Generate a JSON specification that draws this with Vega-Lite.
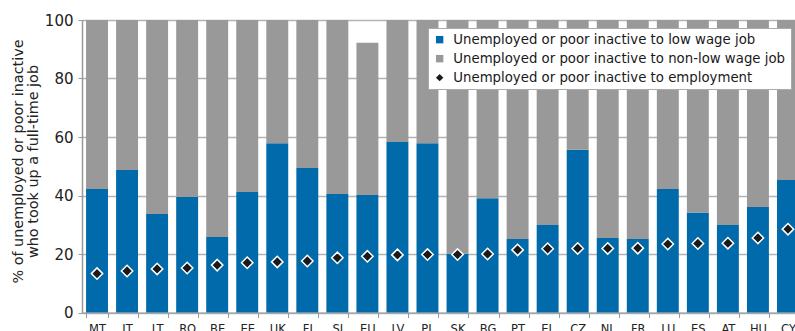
{
  "$schema": "https://vega.github.io/schema/vega-lite/v6.json",
  "width": 713,
  "height": 292.5,
  "autosize": "none",
  "padding": {"left": 82, "top": 20, "right": 0, "bottom": 18.5},
  "config": {"view": {"stroke": null}, "font": "DejaVu Sans"},
  "datasets": {
    "bars": [
      {"country": "MT", "series": "Unemployed or poor inactive to low wage job", "value": 42.2},
      {"country": "MT", "series": "Unemployed or poor inactive to non-low wage job", "value": 57.8},
      {"country": "IT", "series": "Unemployed or poor inactive to low wage job", "value": 48.7},
      {"country": "IT", "series": "Unemployed or poor inactive to non-low wage job", "value": 51.3},
      {"country": "LT", "series": "Unemployed or poor inactive to low wage job", "value": 33.7},
      {"country": "LT", "series": "Unemployed or poor inactive to non-low wage job", "value": 66.3},
      {"country": "RO", "series": "Unemployed or poor inactive to low wage job", "value": 39.5},
      {"country": "RO", "series": "Unemployed or poor inactive to non-low wage job", "value": 60.5},
      {"country": "BE", "series": "Unemployed or poor inactive to low wage job", "value": 25.8},
      {"country": "BE", "series": "Unemployed or poor inactive to non-low wage job", "value": 74.2},
      {"country": "EE", "series": "Unemployed or poor inactive to low wage job", "value": 41.2},
      {"country": "EE", "series": "Unemployed or poor inactive to non-low wage job", "value": 58.8},
      {"country": "UK", "series": "Unemployed or poor inactive to low wage job", "value": 57.9},
      {"country": "UK", "series": "Unemployed or poor inactive to non-low wage job", "value": 42.1},
      {"country": "FI", "series": "Unemployed or poor inactive to low wage job", "value": 49.4},
      {"country": "FI", "series": "Unemployed or poor inactive to non-low wage job", "value": 50.6},
      {"country": "SI", "series": "Unemployed or poor inactive to low wage job", "value": 40.5},
      {"country": "SI", "series": "Unemployed or poor inactive to non-low wage job", "value": 59.5},
      {"country": "EU", "series": "Unemployed or poor inactive to low wage job", "value": 40.2},
      {"country": "EU", "series": "Unemployed or poor inactive to non-low wage job", "value": 52.0},
      {"country": "LV", "series": "Unemployed or poor inactive to low wage job", "value": 58.3},
      {"country": "LV", "series": "Unemployed or poor inactive to non-low wage job", "value": 41.7},
      {"country": "PL", "series": "Unemployed or poor inactive to low wage job", "value": 57.9},
      {"country": "PL", "series": "Unemployed or poor inactive to non-low wage job", "value": 42.1},
      {"country": "SK", "series": "Unemployed or poor inactive to low wage job", "value": 20.1},
      {"country": "SK", "series": "Unemployed or poor inactive to non-low wage job", "value": 79.9},
      {"country": "BG", "series": "Unemployed or poor inactive to low wage job", "value": 39.1},
      {"country": "BG", "series": "Unemployed or poor inactive to non-low wage job", "value": 60.9},
      {"country": "PT", "series": "Unemployed or poor inactive to low wage job", "value": 25.1},
      {"country": "PT", "series": "Unemployed or poor inactive to non-low wage job", "value": 74.9},
      {"country": "EL", "series": "Unemployed or poor inactive to low wage job", "value": 29.9},
      {"country": "EL", "series": "Unemployed or poor inactive to non-low wage job", "value": 70.1},
      {"country": "CZ", "series": "Unemployed or poor inactive to low wage job", "value": 55.6},
      {"country": "CZ", "series": "Unemployed or poor inactive to non-low wage job", "value": 44.4},
      {"country": "NL", "series": "Unemployed or poor inactive to low wage job", "value": 25.5},
      {"country": "NL", "series": "Unemployed or poor inactive to non-low wage job", "value": 74.5},
      {"country": "FR", "series": "Unemployed or poor inactive to low wage job", "value": 25.1},
      {"country": "FR", "series": "Unemployed or poor inactive to non-low wage job", "value": 74.9},
      {"country": "LU", "series": "Unemployed or poor inactive to low wage job", "value": 42.2},
      {"country": "LU", "series": "Unemployed or poor inactive to non-low wage job", "value": 57.8},
      {"country": "ES", "series": "Unemployed or poor inactive to low wage job", "value": 34.2},
      {"country": "ES", "series": "Unemployed or poor inactive to non-low wage job", "value": 65.8},
      {"country": "AT", "series": "Unemployed or poor inactive to low wage job", "value": 29.9},
      {"country": "AT", "series": "Unemployed or poor inactive to non-low wage job", "value": 70.1},
      {"country": "HU", "series": "Unemployed or poor inactive to low wage job", "value": 36.1},
      {"country": "HU", "series": "Unemployed or poor inactive to non-low wage job", "value": 63.9},
      {"country": "CY", "series": "Unemployed or poor inactive to low wage job", "value": 45.3},
      {"country": "CY", "series": "Unemployed or poor inactive to non-low wage job", "value": 54.7}
    ],
    "emp": [
      {"country": "MT", "series": "Unemployed or poor inactive to employment", "value": 13.3},
      {"country": "IT", "series": "Unemployed or poor inactive to employment", "value": 14.2},
      {"country": "LT", "series": "Unemployed or poor inactive to employment", "value": 14.9},
      {"country": "RO", "series": "Unemployed or poor inactive to employment", "value": 15.2},
      {"country": "BE", "series": "Unemployed or poor inactive to employment", "value": 16.2},
      {"country": "EE", "series": "Unemployed or poor inactive to employment", "value": 17.0},
      {"country": "UK", "series": "Unemployed or poor inactive to employment", "value": 17.3},
      {"country": "FI", "series": "Unemployed or poor inactive to employment", "value": 17.6},
      {"country": "SI", "series": "Unemployed or poor inactive to employment", "value": 18.7},
      {"country": "EU", "series": "Unemployed or poor inactive to employment", "value": 19.2},
      {"country": "LV", "series": "Unemployed or poor inactive to employment", "value": 19.7},
      {"country": "PL", "series": "Unemployed or poor inactive to employment", "value": 19.8},
      {"country": "SK", "series": "Unemployed or poor inactive to employment", "value": 19.8},
      {"country": "BG", "series": "Unemployed or poor inactive to employment", "value": 20.0},
      {"country": "PT", "series": "Unemployed or poor inactive to employment", "value": 21.4},
      {"country": "EL", "series": "Unemployed or poor inactive to employment", "value": 21.8},
      {"country": "CZ", "series": "Unemployed or poor inactive to employment", "value": 21.9},
      {"country": "NL", "series": "Unemployed or poor inactive to employment", "value": 21.9},
      {"country": "FR", "series": "Unemployed or poor inactive to employment", "value": 22.0},
      {"country": "LU", "series": "Unemployed or poor inactive to employment", "value": 23.4},
      {"country": "ES", "series": "Unemployed or poor inactive to employment", "value": 23.6},
      {"country": "AT", "series": "Unemployed or poor inactive to employment", "value": 23.7},
      {"country": "HU", "series": "Unemployed or poor inactive to employment", "value": 25.5},
      {"country": "CY", "series": "Unemployed or poor inactive to employment", "value": 28.5}
    ]
  },
  "layer": [
    {
      "data": {"name": "bars"},
      "mark": {"type": "bar"},
      "encoding": {
        "x": {
          "field": "country", "type": "nominal", "sort": null,
          "scale": {"range": [0, 721], "paddingInner": 0.27, "paddingOuter": 0.135},
          "axis": {
            "title": null, "labelAngle": 0, "tickBand": "extent", "tickSize": 5,
            "tickColor": "#999999", "domainColor": "#999999", "labelFontSize": 11.5,
            "labelColor": "#222222", "labelPadding": 6
          }
        },
        "y": {
          "field": "value", "type": "quantitative", "stack": "zero",
          "scale": {"domain": [0, 100], "nice": false},
          "axis": {
            "values": [0, 20, 40, 60, 80, 100], "grid": true, "gridColor": "#b3b3b3", "gridWidth": 1.5,
            "domainColor": "#999999", "domainWidth": 1.5, "tickColor": "#999999", "tickSize": 4,
            "labelFontSize": 15, "labelColor": "#222222", "labelPadding": 5,
            "title": ["% of unemployed or poor inactive", "who took up a full-time job"],
            "titleFontSize": 14.4, "titleFontWeight": "normal", "titleColor": "#222222",
            "titleLineHeight": 15, "titleX": -71, "titleY": 141, "titleBaseline": "top",
            "titleAlign": "center", "titleAngle": -90
          }
        },
        "order": {"field": "series", "type": "ordinal", "sort": "ascending"},
        "color": {
          "field": "series", "type": "nominal",
          "scale": {
            "domain": ["Unemployed or poor inactive to low wage job", "Unemployed or poor inactive to non-low wage job", "Unemployed or poor inactive to employment"],
            "range": ["#006AAA", "#999999", "#1a1a1a"]
          },
          "legend": {
            "orient": "none", "legendX": 346, "legendY": 8, "title": null,
            "fillColor": "white", "strokeColor": "#aaaaaa", "padding": 5,
            "labelFontSize": 13.3, "labelColor": "#1a1a1a", "labelLimit": 0,
            "symbolSize": 55, "rowPadding": 5, "labelOffset": 7, "symbolStrokeWidth": 0
          }
        }
      }
    },
    {
      "data": {"name": "emp"},
      "mark": {"type": "point", "filled": true, "size": 130, "stroke": "white", "strokeWidth": 1.5, "opacity": 1},
      "encoding": {
        "x": {"field": "country", "type": "nominal", "sort": null},
        "y": {"field": "value", "type": "quantitative"},
        "color": {"field": "series", "type": "nominal"},
        "shape": {
          "field": "series", "type": "nominal",
          "scale": {
            "domain": ["Unemployed or poor inactive to low wage job", "Unemployed or poor inactive to non-low wage job", "Unemployed or poor inactive to employment"],
            "range": ["square", "square", "diamond"]
          }
        }
      }
    }
  ]
}
